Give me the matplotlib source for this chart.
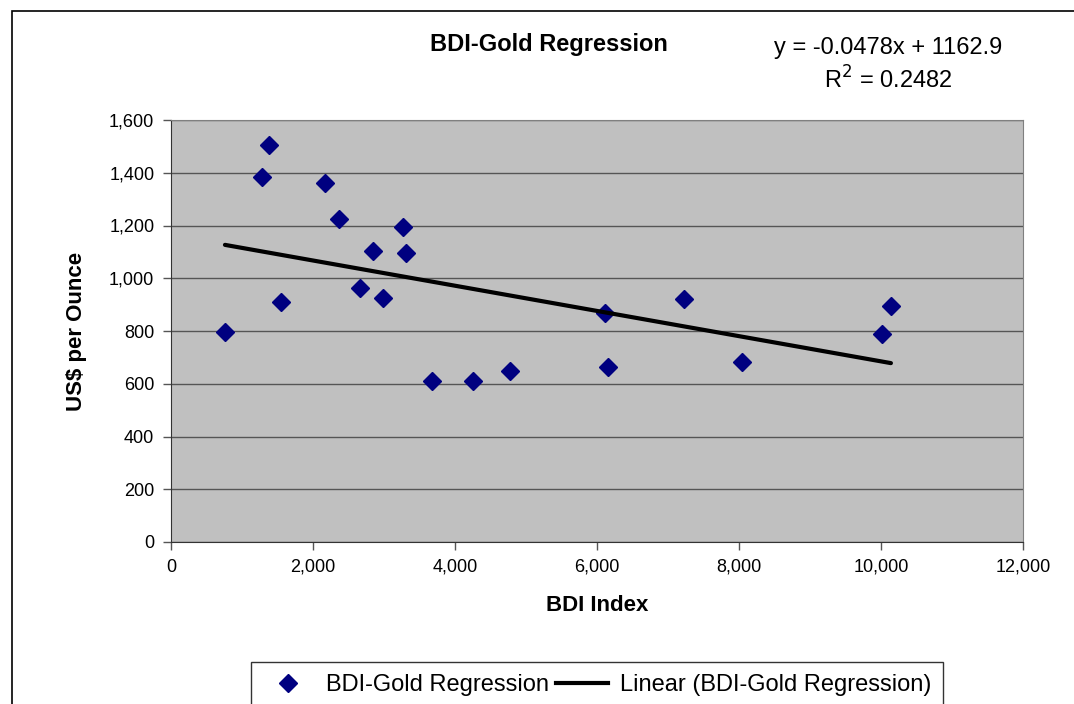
import numpy as np
import matplotlib.pyplot as plt
from matplotlib.patches import Rectangle
from matplotlib.lines import Line2D

plt.rcParams['font.family'] = ['Liberation Sans', 'DejaVu Sans']

# data
bdi = [760, 1280, 1380, 1550, 2170, 2365, 2660, 2845, 2985, 3270,
       3310, 3675, 4255, 4775, 6115, 6155, 7225, 8040, 10015, 10140]
gold = [796, 1385, 1505, 910, 1362, 1225, 963, 1103, 925, 1195,
        1096, 612, 612, 650, 868, 665, 922, 682, 789, 895]
slope = -0.0478
intercept = 1162.9
r2 = 0.2482

W, H = 1074, 704
fig = plt.figure(figsize=(W / 100, H / 100), dpi=100)
ax = fig.add_axes([171 / W, 1 - 542 / H, (1023 - 171) / W, (542 - 120) / H])
ax.set_facecolor('#C0C0C0')

# outer chart border
fig.patches.append(Rectangle((12 / W, -0.05), 1.1, 1 - 11 / H + 0.05,
                             transform=fig.transFigure, fill=False,
                             edgecolor='black', linewidth=1.2))

ax.plot(bdi, gold, linestyle='none', marker='D', color='#000080', markersize=9,
        label='BDI-Gold Regression')
xs = np.array([min(bdi), max(bdi)])
ax.plot(xs, slope * xs + intercept, color='black', linewidth=3,
        solid_capstyle='round', label='Linear (BDI-Gold Regression)')

ax.set_xlim(0, 12000)
ax.set_ylim(0, 1600)
ax.set_xticks(range(0, 12001, 2000))
ax.set_yticks(range(0, 1601, 200))
ax.xaxis.set_major_formatter(plt.FuncFormatter(lambda v, p: f'{int(v):,}'))
ax.yaxis.set_major_formatter(plt.FuncFormatter(lambda v, p: f'{int(v):,}'))
ax.tick_params(labelsize=13, direction='out', length=6, width=1, color='#555555', pad=6)
ax.grid(axis='y', color='#555555', linewidth=1)
ax.set_axisbelow(True)
for s in ['top', 'right']:
    ax.spines[s].set_color('#808080')
for s in ['left', 'bottom']:
    ax.spines[s].set_color('#333333')

ax.set_xlabel('BDI Index', fontsize=16, fontweight='bold', labelpad=14)
ax.set_ylabel('US$ per Ounce', fontsize=16, fontweight='bold', labelpad=16)

fig.text(549 / W, 1 - 45 / H, 'BDI-Gold Regression', fontsize=17, fontweight='bold',
         ha='center', va='center')
fig.text(888 / W, 1 - 48 / H, f'y = {slope}x + {intercept}', fontsize=17,
         ha='center', va='center')
fig.text(888 / W, 1 - 80 / H, f'R$^2$ = {r2}', fontsize=17,
         ha='center', va='center')

handles = [Line2D([], [], linestyle='none', marker='D', color='#000080', markersize=9),
           Line2D([], [], color='black', linewidth=3)]
leg = fig.legend(handles, ['BDI-Gold Regression', 'Linear (BDI-Gold Regression)'],
                 loc='upper center', bbox_to_anchor=(597 / W, 1 - 662 / H), ncol=2,
                 fontsize=17, frameon=True, fancybox=False, edgecolor='black',
                 handlelength=2.2, columnspacing=0.3, handletextpad=0.5,
                 borderpad=0.5, borderaxespad=0)
leg.get_frame().set_linewidth(1)

fig.savefig('out.png', dpi=100)
